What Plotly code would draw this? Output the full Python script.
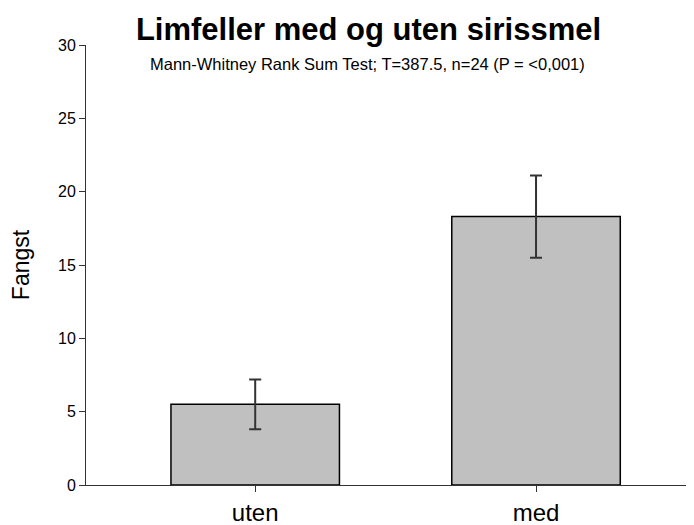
import plotly.graph_objects as go

categories = ["uten", "med"]
means = [5.5, 18.3]
err_plus = [1.7, 2.8]
err_minus = [1.7, 2.8]
y_ticks = [0, 5, 10, 15, 20, 25, 30]

# page body has an 8px default margin; size the figure so the plot lands where the reference has it
OFF = 8
W, H = 694 - OFF, 525 - OFF

fig = go.Figure()
fig.add_trace(go.Bar(
    x=categories, y=means, width=0.6,
    marker=dict(color="#c0c0c0", line=dict(color="black", width=1.5)),
    error_y=dict(type="data", symmetric=False, array=err_plus, arrayminus=err_minus,
                 color="#333333", thickness=2, width=6),
))

fig.update_layout(
    width=W, height=H,
    margin=dict(l=86 - OFF, r=0, t=45 - OFF, b=40, autoexpand=False),
    paper_bgcolor="white", plot_bgcolor="white",
    showlegend=False,
    font=dict(family="Liberation Sans, Arial, sans-serif", color="black"),
    title=dict(text="<b>Limfeller med og uten sirissmel</b>", x=(368.5 - OFF) / W, xanchor="center",
               y=1 - (29 - OFF) / H, yanchor="middle", yref="container",
               font=dict(size=31, color="black")),
    annotations=[dict(text="Mann-Whitney Rank Sum Test; T=387.5, n=24 (P = <0,001)",
                      x=(367.5 - 86) / 608, y=(485 - 64) / 440, xref="paper", yref="paper",
                      xanchor="center", yanchor="middle", showarrow=False,
                      font=dict(size=16.5, color="black"))],
    xaxis=dict(range=[-0.6025, 1.5625], showline=True, linecolor="#333333", linewidth=1,
               ticks="outside", ticklen=6, tickcolor="#333333", tickwidth=1,
               tickfont=dict(size=24), showgrid=False, zeroline=False, automargin=False),
    yaxis=dict(range=[0, 30], tickvals=y_ticks, showline=True, linecolor="#333333", linewidth=1,
               ticks="outside", ticklen=6, tickcolor="#333333", tickwidth=1,
               tickfont=dict(size=16), showgrid=False, zeroline=False, automargin=False,
               title=dict(text="Fangst", font=dict(size=23), standoff=22)),
)

fig.write_html("out.html")
